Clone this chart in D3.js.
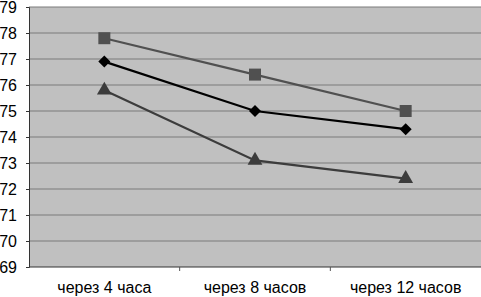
<!DOCTYPE html>
<html><head><meta charset="utf-8">
<script src="https://cdn.jsdelivr.net/npm/d3@7"></script>
<style>body{margin:0;background:#fff}svg{display:block}</style>
</head><body><svg width="481" height="297"></svg>
<script>
const categories = ["через 4 часа", "через 8 часов", "через 12 часов"];
const seriesSquare = [77.8, 76.4, 75.0];
const seriesDiamond = [76.9, 75.0, 74.3];
const seriesTriangle = [75.8, 73.1, 72.4];
const yTicks = [69,70,71,72,73,74,75,76,77,78,79];

const svg = d3.select("svg");
const m = {l:29, r:481, t:7, b:267};
const x = d3.scaleBand().domain(categories).range([m.l, m.r]);
const y = d3.scaleLinear().domain([69,79]).range([m.b, m.t]);
const font = "Liberation Sans, Arial, sans-serif";

svg.append("rect").attr("x", m.l).attr("y", m.t).attr("width", m.r-m.l).attr("height", m.b-m.t).attr("fill", "#c0c0c0");

svg.append("g").selectAll("line").data(yTicks.slice(1)).join("line")
  .attr("x1", m.l).attr("x2", m.r).attr("y1", d=>y(d)).attr("y2", d=>y(d))
  .attr("stroke", "#7a7a7a").attr("stroke-width", 1);

const yAxis = d3.axisLeft(y).tickValues(yTicks).tickSize(3).tickPadding(9).tickFormat(d3.format("d"));
const gy = svg.append("g").attr("transform", `translate(${m.l},0)`).call(yAxis);
gy.select(".domain").attr("stroke", "#333");
gy.selectAll(".tick line").attr("stroke", "#333");
gy.selectAll("text").attr("font-family", font).attr("font-size", 16).attr("fill", "#000");

const gx = svg.append("g").attr("transform", `translate(0,${m.b})`)
  .call(d3.axisBottom(x).tickSize(0).tickPadding(15));
gx.select(".domain").remove();
gx.selectAll("text").attr("font-family", font).attr("font-size", 16).attr("fill", "#000");
gx.append("line").attr("x1", m.l).attr("x2", m.r).attr("stroke", "#333");
gx.selectAll(".bt").data(categories.slice(1)).join("line").attr("class","bt")
  .attr("x1", d=>x(d)).attr("x2", d=>x(d)).attr("y1", 0).attr("y2", 4).attr("stroke", "#555");

const cx = d => x(d) + x.bandwidth()/2;
const line = d3.line().x((d,i)=>cx(categories[i])).y(d=>y(d));

const series = [
  {vals: seriesSquare, color: "#505050", sym: d3.symbolSquare, size: 144, rot: 0},
  {vals: seriesTriangle, color: "#3c3c3c", sym: d3.symbolTriangle, size: 95, rot: 0},
  {vals: seriesDiamond, color: "#000000", sym: d3.symbolSquare, size: 72, rot: 45}
];
series.forEach(s => {
  svg.append("path").datum(s.vals).attr("d", line).attr("fill","none").attr("stroke", s.color).attr("stroke-width", 2.2);
  svg.append("g").selectAll("path").data(s.vals).join("path")
    .attr("d", d3.symbol().type(s.sym).size(s.size))
    .attr("transform", (d,i)=>`translate(${cx(categories[i])},${y(d)}) rotate(${s.rot})`)
    .attr("fill", s.color);
});
</script></body></html>
